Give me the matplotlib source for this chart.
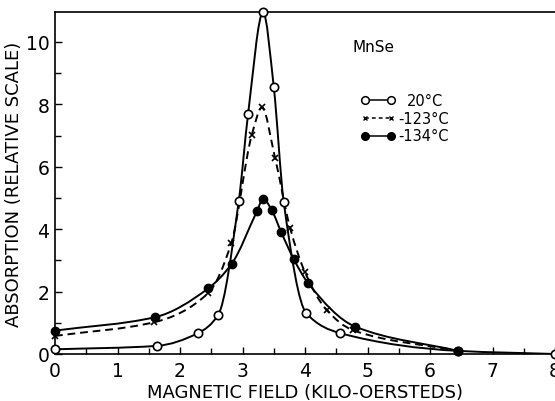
import numpy as np
import matplotlib
matplotlib.use("Agg")
import matplotlib.pyplot as plt
from matplotlib.path import Path
from matplotlib.patches import PathPatch
from matplotlib.ticker import MultipleLocator

# ---- data ----
x_20 = [0.0, 1.63, 2.29, 2.61, 2.94, 3.09, 3.33, 3.50, 3.66, 4.02, 4.56, 6.45, 8.0]
y_20 = [0.15, 0.26, 0.67, 1.25, 4.90, 7.70, 10.95, 8.56, 4.86, 1.31, 0.67, 0.10, 0.0]

x_123 = [0.0, 1.59, 2.45, 2.82, 3.15, 3.31, 3.52, 3.76, 4.00, 4.35, 4.77, 6.45]
y_123 = [0.58, 1.02, 1.95, 3.55, 7.03, 7.90, 6.29, 4.05, 2.62, 1.40, 0.76, 0.10]

x_134 = [0.0, 1.60, 2.45, 2.83, 3.23, 3.33, 3.47, 3.62, 3.82, 4.05, 4.80, 6.45]
y_134 = [0.75, 1.18, 2.10, 2.90, 4.57, 4.98, 4.60, 3.90, 3.04, 2.27, 0.88, 0.10]

labels = ["20°C", "-123°C", "-134°C"]
sample_name = "MnSe"
xlabel = "MAGNETIC FIELD (KILO-OERSTEDS)"
ylabel = "ABSORPTION (RELATIVE SCALE)"


def smooth_path(xs, ys):
    """Monotone cubic (PCHIP) curve through the points, as Bezier path."""
    x = np.asarray(xs, float)
    y = np.asarray(ys, float)
    h = np.diff(x)
    d = np.diff(y) / h
    n = len(x)
    m = np.zeros(n)
    m[0], m[-1] = d[0], d[-1]
    for k in range(1, n - 1):
        if d[k - 1] * d[k] <= 0:
            m[k] = 0.0
        else:
            w1 = 2 * h[k] + h[k - 1]
            w2 = h[k] + 2 * h[k - 1]
            m[k] = (w1 + w2) / (w1 / d[k - 1] + w2 / d[k])
    verts = [(x[0], y[0])]
    codes = [Path.MOVETO]
    for k in range(n - 1):
        verts += [(x[k] + h[k] / 3, y[k] + m[k] * h[k] / 3),
                  (x[k + 1] - h[k] / 3, y[k + 1] - m[k + 1] * h[k] / 3),
                  (x[k + 1], y[k + 1])]
        codes += [Path.CURVE4] * 3
    return Path(verts, codes)


plt.rcParams['font.family'] = ['DejaVu Sans']
fig = plt.figure(figsize=(5.55, 4.02), dpi=100)
ax = fig.add_axes([55 / 555, 47 / 402, 500 / 555, 342 / 402])

lw = 1.4
ax.add_patch(PathPatch(smooth_path(x_20, y_20), fill=False, lw=lw, ec='black',
                       transform=ax.transData))
ax.add_patch(PathPatch(smooth_path(x_123, y_123), fill=False, lw=lw, ec='black',
                       ls=(0, (4, 2.5)), transform=ax.transData))
ax.add_patch(PathPatch(smooth_path(x_134, y_134), fill=False, lw=lw, ec='black',
                       transform=ax.transData))

ax.plot(x_20, y_20, ls='none', marker='o', ms=6, mfc='white', mec='black',
        mew=1.2, clip_on=False, zorder=5)
ax.plot(x_123, y_123, ls='none', marker='x', ms=4, mec='black', mew=1.2,
        clip_on=False, zorder=5)
ax.plot(x_134, y_134, ls='none', marker='o', ms=6, mfc='black', mec='black',
        clip_on=False, zorder=5)

ax.set_xlim(0, 8)
ax.set_ylim(0, 10.96)
ax.xaxis.set_major_locator(MultipleLocator(1))
ax.xaxis.set_minor_locator(MultipleLocator(0.5))
ax.yaxis.set_major_locator(MultipleLocator(2))
ax.yaxis.set_minor_locator(MultipleLocator(1))
ax.tick_params(which='both', direction='in', width=1.0, colors='black',
               top=False, right=False)
ax.tick_params(which='major', length=5, labelsize=13.5)
ax.tick_params(axis='x', which='major', pad=5)
ax.tick_params(axis='y', which='major', pad=4)
ax.tick_params(which='minor', length=4)
ax.spines['right'].set_visible(False)
for s in ['left', 'bottom', 'top']:
    ax.spines[s].set_linewidth(1.2)

ax.set_xlabel(xlabel, fontsize=13, labelpad=2)
ax.set_ylabel(ylabel, fontsize=13, labelpad=2)

# sample label and legend
ax.text(0.594, 0.90, sample_name, transform=ax.transAxes, fontsize=11,
        va='center', ha='left')
rows = [0.742, 0.690, 0.638]
styles = [dict(ls='-', marker='o', mfc='white', ms=5.5, mew=1.1),
          dict(ls=(0, (2.5, 2)), marker='x', ms=3.5, mew=1.0),
          dict(ls='-', marker='o', mfc='black', ms=5.5)]
text_x = [0.704, 0.686, 0.686]
for yr, st, lab, tx in zip(rows, styles, labels, text_x):
    ax.plot([0.62, 0.672], [yr, yr], transform=ax.transAxes, color='black',
            mec='black', lw=1.1, clip_on=False, **st)
    ax.text(tx, yr, lab, transform=ax.transAxes, fontsize=10.5, va='center',
            ha='left')

fig.savefig("out.png", dpi=100, facecolor='white')
